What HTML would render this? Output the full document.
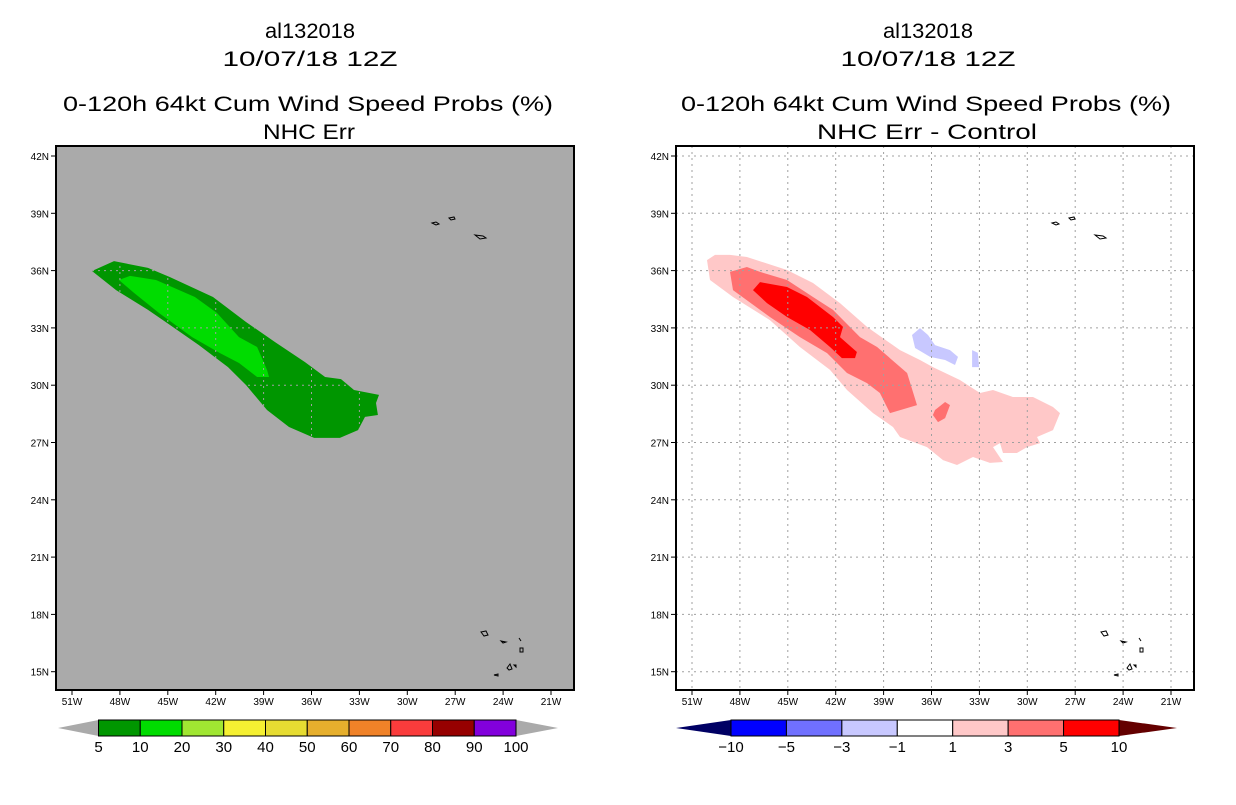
<!DOCTYPE html>
<html><head><meta charset="utf-8"><style>
body{margin:0;background:#fff;}
svg text{font-family:"Liberation Sans",sans-serif;fill:#000;}
</style></head><body>
<svg id="s" width="1236" height="800" xmlns="http://www.w3.org/2000/svg">
<g id="titles" font-size="21" text-anchor="middle">
<text x="310" y="38" textLength="90" lengthAdjust="spacingAndGlyphs">al132018</text>
<text x="310" y="66" textLength="175" lengthAdjust="spacingAndGlyphs">10/07/18 12Z</text>
<text x="308" y="111" textLength="490" lengthAdjust="spacingAndGlyphs">0-120h 64kt Cum Wind Speed Probs (%)</text>
<text x="309" y="139" textLength="92" lengthAdjust="spacingAndGlyphs">NHC Err</text>
<text x="928" y="38" textLength="90" lengthAdjust="spacingAndGlyphs">al132018</text>
<text x="928" y="66" textLength="175" lengthAdjust="spacingAndGlyphs">10/07/18 12Z</text>
<text x="926" y="111" textLength="490" lengthAdjust="spacingAndGlyphs">0-120h 64kt Cum Wind Speed Probs (%)</text>
<text x="927" y="139" textLength="220" lengthAdjust="spacingAndGlyphs">NHC Err - Control</text>
</g>
</svg>
<script>
const lonTicks=[-51,-48,-45,-42,-39,-36,-33,-30,-27,-24,-21];
const latTicks=[42,39,36,33,30,27,24,21,18,15];
const leftBarLabels=["5","10","20","30","40","50","60","70","80","90","100"];
const leftBarColors=["#009600","#00dc00","#a0e632","#f5f032","#e6dc32","#e6af2d","#f08228","#fa3c3c","#960000","#8200dc"];
const rightBarLabels=["-10","-5","-3","-1","1","3","5","10"];
const rightBarColors=["#0000ff","#7070ff","#c8c8ff","#ffffff","#ffc8c8","#ff7070","#ff0000"];
// contour polygons [lon,lat]
const prob5=[[-49.75,35.98],[-48.37,36.5],[-46.24,36.14],[-44.86,35.66],[-42.17,34.62],[-40.1,33.31],[-38.29,32.26],[-36.41,31.21],[-35.15,30.43],[-34.15,30.32],[-33.34,29.75],[-31.77,29.49],[-31.96,29.07],[-31.84,28.44],[-32.65,28.34],[-33.09,27.65],[-34.22,27.24],[-35.84,27.24],[-37.41,27.81],[-38.79,28.7],[-40.1,30.01],[-41.23,30.95],[-43.05,32.1],[-44.86,33.15],[-46.24,33.94],[-48.24,34.98]];
const prob10=[[-48.06,35.51],[-47.37,35.72],[-45.74,35.51],[-43.3,34.62],[-41.92,33.78],[-40.54,32.52],[-39.41,32.0],[-38.79,30.8],[-38.66,30.43],[-39.41,30.43],[-40.54,31.16],[-41.73,31.68],[-43.48,32.52],[-45.55,33.78],[-47.12,34.83]];
const diff1=[[-50.06,36.55],[-49.56,36.82],[-48.62,36.82],[-47.56,36.71],[-45.05,36.03],[-43.42,35.35],[-41.73,34.3],[-40.04,33.05],[-37.97,31.84],[-36.72,31.32],[-35.91,30.95],[-34.22,30.27],[-32.96,29.59],[-32.15,29.75],[-30.9,29.38],[-29.64,29.38],[-28.39,28.86],[-27.95,28.54],[-28.39,27.65],[-29.39,27.29],[-29.2,26.97],[-30.02,26.76],[-30.65,26.45],[-31.52,26.45],[-31.71,26.97],[-32.15,26.76],[-31.52,25.98],[-32.34,25.93],[-33.4,26.24],[-34.4,25.82],[-35.28,26.08],[-36.28,26.76],[-37.97,27.29],[-38.41,27.81],[-39.66,28.54],[-41.29,29.75],[-42.36,30.8],[-44.24,32.0],[-46.12,33.41],[-48.43,34.62],[-49.87,35.51]];
const diff3=[[-48.62,35.93],[-47.56,36.19],[-46.74,35.93],[-45.05,35.51],[-43.42,34.62],[-42.17,33.94],[-40.48,32.52],[-39.41,32.0],[-37.53,30.64],[-36.91,28.96],[-38.6,28.54],[-39.23,29.59],[-40.04,30.11],[-41.29,30.64],[-42.54,31.68],[-44.24,32.52],[-46.12,33.57],[-48.43,34.98]];
const diff3b=[[-35.78,28.7],[-35.15,29.12],[-34.84,28.96],[-35.15,28.28],[-35.59,28.07],[-35.91,28.44]];
const diff5=[[-47.18,34.98],[-46.74,35.4],[-45.05,35.14],[-43.8,34.62],[-42.17,33.57],[-41.54,33.05],[-41.73,32.52],[-40.67,31.74],[-40.79,31.42],[-41.61,31.42],[-42.36,32.0],[-43.61,32.89],[-45.05,33.57],[-46.3,34.3]];
const diffNeg1=[[-37.22,32.63],[-36.72,32.99],[-36.22,32.63],[-35.78,32.1],[-34.84,31.84],[-34.34,31.48],[-34.53,31.06],[-35.15,31.32],[-36.09,31.48],[-37.03,31.95]];
const diffNeg1b=[[-33.46,31.84],[-33.1,31.7],[-33.02,30.95],[-33.46,30.95]];

const NS="http://www.w3.org/2000/svg";
const svg=document.getElementById('s');
function mk(t,a,p){const e=document.createElementNS(NS,t);for(const k in a)e.setAttribute(k,a[k]);(p||svg).appendChild(e);return e;}
const L={x0:56,x1:574,y0:146,y1:690};
function xS(lon,off){return off+72+(lon+51)*47.9/3;}
function yS(lat){return 156+(42-lat)*57.3/3;}
function pts(arr,off){return arr.map(p=>xS(p[0],off).toFixed(1)+','+yS(p[1]).toFixed(1)).join(' ');}

function panel(off,bg,name){
  const g=mk('g',{});
  
  
  const bgR=mk('rect',{x:L.x0+off,y:L.y0,width:L.x1-L.x0,height:L.y1-L.y0,fill:bg},g);
  
  
  return g;
}
function poly(g,arr,off,fill,name){
  const p=mk('polygon',{points:pts(arr,off),fill:fill},g);
  
  
  return p;
}
function grid(g,off,clip){
  const gg=mk('g',{stroke:'#a0a0a0','stroke-width':1,'stroke-dasharray':'2,4'},g);
  if(clip)gg.setAttribute('clip-path',clip);
  
  
  lonTicks.forEach(v=>mk('line',{x1:xS(v,off),x2:xS(v,off),y1:L.y0,y2:L.y1},gg));
  latTicks.forEach(v=>mk('line',{x1:L.x0+off,x2:L.x1+off,y1:yS(v),y2:yS(v)},gg));
}
function islands(g,off){
  const ig=mk('g',{fill:'none',stroke:'#000','stroke-width':1},g);
  
  
  const d=[
   "M432,223 l4,-1 l3,2 l-3,1 z","M449,218 l5,-1 l1,2 l-4,1 z","M475,235 l8,1 l3,2 l-6,1 z",
   "M481,632 l5,-1 l2,4 l-4,1 z","M501,641 l5,1 l-3,1 z","M519,638 l2,3","M520,648 l3,0 l0,4 l-3,0 z",
   "M507,668 l3,-4 l2,5 l-3,1 z","M514,665 l2,0 l0,2 z","M494,675 l4,-1 l0,2 z"];
  d.forEach(s=>mk('path',{d:s,transform:'translate('+off+',0)'},ig));
}
function frame(g,off){
  const f=mk('rect',{x:L.x0+off,y:L.y0,width:L.x1-L.x0,height:L.y1-L.y0,fill:'none',stroke:'#000','stroke-width':2},g);
  
  
  const ax=mk('g',{'font-size':10,fill:'#000'},g);
  
  
  latTicks.forEach(v=>{
    mk('line',{x1:L.x0+off-5,x2:L.x0+off,y1:yS(v),y2:yS(v),stroke:'#000'},ax);
    const t=mk('text',{x:L.x0+off-7,y:yS(v)+4,'text-anchor':'end'},ax);
    t.textContent=v+'N';
    
    
  });
  lonTicks.forEach(v=>{
    mk('line',{x1:xS(v,off),x2:xS(v,off),y1:L.y1,y2:L.y1+5,stroke:'#000'},ax);
    const t=mk('text',{x:xS(v,off),y:L.y1+15,'text-anchor':'middle'},ax);
    t.textContent=(-v)+'W';
    
    
  });
}
// left panel
const gl=panel(0,'#aaaaaa','left-probability-map');
poly(gl,prob5,0,leftBarColors[0],'prob-5-10-area');
poly(gl,prob10,0,leftBarColors[1],'prob-10-20-area');
const cp=mk('clipPath',{id:'cl'},svg);
mk('polygon',{points:pts(prob5,0)},cp);
grid(gl,0,'url(#cl)');
islands(gl,0);
frame(gl,0);
// right panel
const OFF=620;
const gr=panel(OFF,'#ffffff','right-difference-map');
poly(gr,diff1,OFF,rightBarColors[4],'diff-1-3-area');
poly(gr,diff3,OFF,rightBarColors[5],'diff-3-5-area');
poly(gr,diff3b,OFF,rightBarColors[5],'diff-3-5-blob');
poly(gr,diff5,OFF,rightBarColors[6],'diff-5-10-area');
poly(gr,diffNeg1,OFF,rightBarColors[2],'diff-neg-area');
poly(gr,diffNeg1b,OFF,rightBarColors[2],'diff-neg-blob');
grid(gr,OFF,null);
islands(gr,OFF);
frame(gr,OFF);

function colorbar(x0,x1,tipL,tipR,colors,labels,cL,cR,name){
  const g=mk('g',{});
  
  
  const y0=720,y1=736,ym=728,w=(x1-x0)/colors.length;
  const tl=mk('polygon',{points:`${tipL},${ym} ${x0},${y0} ${x0},${y1}`,fill:cL},g);
  
  const tr=mk('polygon',{points:`${tipR},${ym} ${x1},${y0} ${x1},${y1}`,fill:cR},g);
  
  colors.forEach((c,i)=>{
    const r=mk('rect',{x:x0+i*w,y:y0,width:w,height:y1-y0,fill:c,stroke:'#000','stroke-width':1},g);
    
    
  });
  labels.forEach((l,i)=>{
    const t=mk('text',{x:x0+i*w,y:752,'text-anchor':'middle','font-size':15},g);
    t.textContent=l.replace('-','\u2212');
    
    
  });
}
colorbar(98.5,516,58,558,leftBarColors,leftBarLabels,'#aaaaaa','#aaaaaa','left-colorbar');
colorbar(731,1119,676,1177,rightBarColors,rightBarLabels,'#000064','#640000','right-colorbar');
</script>
</body></html>
